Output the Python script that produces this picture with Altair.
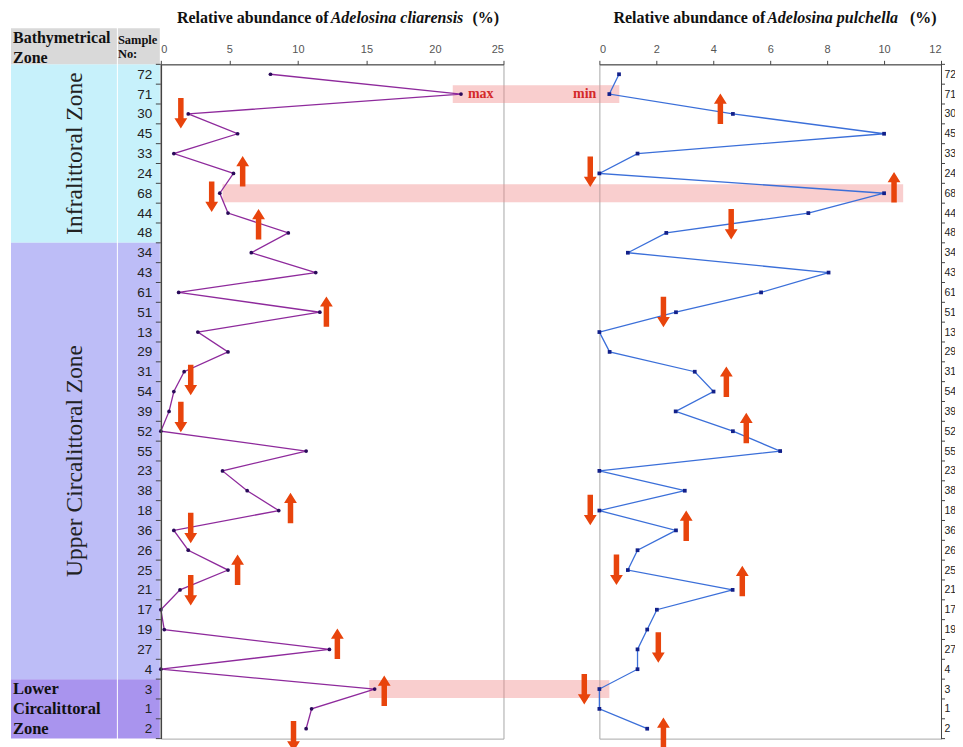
import altair as alt
import pandas as pd

# ---------------- data ----------------
samples = ["72", "71", "30", "45", "33", "24", "68", "44", "48", "34", "43", "61", "51",
           "13", "29", "31", "54", "39", "52", "55", "23", "38", "18", "36", "26", "25",
           "21", "17", "19", "27", "4", "3", "1", "2"]
cliarensis = [8.0, 21.9, 2.0, 5.6, 0.95, 5.3, 4.3, 4.9, 9.3, 6.6, 11.3, 1.3, 11.6,
              2.7, 4.9, 1.7, 0.95, 0.6, 0.0, 10.6, 4.5, 6.3, 8.6, 0.95, 2.0, 4.9,
              1.4, 0.0, 0.25, 12.3, 0.0, 15.6, 11.0, 10.6]
pulchella = [0.69, 0.35, 4.69, 10.0, 1.34, 0.0, 10.0, 7.34, 2.35, 1.0, 8.05, 5.68, 2.69,
             0.0, 0.36, 3.35, 4.01, 2.68, 4.69, 6.35, 0.0, 3.0, 0.0, 2.69, 1.34, 1.0,
             4.68, 2.02, 1.68, 1.34, 1.34, 0.0, 0.0, 1.68]

zone_names = ["Infralittoral Zone", "Upper Circalittoral Zone", "Lower\nCircalittoral\nZone"]
zone_start = [0, 9, 31]
zone_end = [9, 31, 34]
zone_colors = ["#c7f1fb", "#bdbdf7", "#a994ee"]

# highlighted rows (max / min links)
band_rows = [1, 6, 31]
band_left = [21.3, 4.5, 15.2]
band_right = [0.7, 10.67, 0.35]

# arrows
arrows_l_x = [1.46, 5.97, 3.71, 7.13, 12.08, 2.18, 1.46, 9.46, 2.18, 5.6, 2.18, 12.88, 16.3, 9.68]
arrows_l_y = [1.97, 4.89, 6.18, 7.56, 11.97, 15.42, 17.28, 21.87, 22.88, 24.99, 26.02, 28.72, 31.09, 33.38]
arrows_l_dir = ["down", "up", "down", "up", "up", "down", "down", "up", "down", "up", "down", "up", "up", "down"]
arrows_r_x = [4.25, -0.32, 10.35, 4.63, 2.25, 4.46, 5.16, -0.32, 3.05, 0.6, 5.02, 2.07, -0.53, 2.25]
arrows_r_y = [1.74, 4.92, 5.7, 7.56, 11.99, 15.5, 17.84, 21.97, 22.77, 24.99, 25.55, 28.9, 31.01, 33.2]
arrows_r_dir = ["up", "down", "up", "down", "down", "up", "up", "down", "up", "down", "up", "down", "down", "up"]

title_l = ["Relative abundance of ", "Adelosina cliarensis", "(%)"]
title_r = ["Relative abundance of ", "Adelosina pulchella", "(%)"]
header_zone = "Bathymetrical\nZone"
header_sample = "Sample\nNo:"

# ---------------- tables ----------------
rows = list(range(len(samples)))
df = pd.DataFrame({"row": rows, "sample": samples, "cli": cliarensis, "pul": pulchella})
bounds_df = pd.DataFrame({"b": [r - 0.5 for r in rows] + [rows[-1] + 0.5]})
zones = pd.DataFrame({
    "name": zone_names, "color": zone_colors, "first": zone_start,
    "y0": [s - 0.5 for s in zone_start], "y1": [e - 0.5 for e in zone_end],
    "mid": [(s + e - 1) / 2 for s, e in zip(zone_start, zone_end)],
})
bands = pd.DataFrame({"row": band_rows, "bl": band_left, "br": band_right,
                      "y0": [r - 0.45 for r in band_rows], "y1": [r + 0.45 for r in band_rows]})
arr_l = pd.DataFrame({"x": arrows_l_x, "y": arrows_l_y, "dir": arrows_l_dir})
arr_r = pd.DataFrame({"x": arrows_r_x, "y": arrows_r_y, "dir": arrows_r_dir})

W_L, W_R, H, GAP = 343, 342, 675, 96
SANS = "Liberation Sans"
SERIF = "Liberation Serif"

yscale = alt.Scale(domain=[-0.5, rows[-1] + 0.5], reverse=True, nice=False, zero=False)
label_expr = "[" + ",".join("'%s'" % s for s in samples) + "][datum.value]"

UP = "M -0.18 1 L -0.18 -0.33 L -0.42 -0.33 L 0 -1 L 0.42 -0.33 L 0.18 -0.33 L 0.18 1 Z"
DOWN = "M -0.18 -1 L -0.18 0.33 L -0.42 0.33 L 0 1 L 0.42 0.33 L 0.18 0.33 L 0.18 -1 Z"
shape_scale = alt.Scale(domain=["up", "down"], range=[UP, DOWN])

ARROW_C = "#e8440c"
BAND_C = "#f08a8a"


def make_yaxis(orient, pad, dwidth, fsize):
    return alt.Axis(orient=orient, values=rows, tickCount=len(rows), labelExpr=label_expr,
                    ticks=False, title=None, grid=False, labelFont=SANS, labelFontSize=fsize,
                    labelColor="#222", labelPadding=pad, labelOverlap=False,
                    domainColor="#444", domainWidth=dwidth, zindex=2)


def make_xaxis(vals):
    return alt.Axis(orient="top", values=vals, title=None, grid=False,
                    labelFont=SANS, labelFontSize=11, labelColor="#555", tickColor="#444",
                    tickSize=4, domainColor="#444", labelPadding=6, zindex=2)


yaxis_l = make_yaxis("left", 9, 1.5, 13.5)
yaxis_r = make_yaxis("right", 3, 1, 10.5)
xaxis_l = make_xaxis([0, 5, 10, 15, 20, 25])
xaxis_r = make_xaxis([0, 2, 4, 6, 8, 10, 12])
xs_l = alt.Scale(domain=[0, 25], nice=False, zero=True)
xs_r = alt.Scale(domain=[0, 12], nice=False, zero=True)


def panel(xscale, xaxis, yaxis):
    def xq(field):
        return alt.X(field, type="quantitative", scale=xscale, axis=xaxis)

    def yq(field):
        return alt.Y(field, type="quantitative", scale=yscale, axis=yaxis)
    return xq, yq


def arrow_layer(data, xq, yq):
    return alt.Chart(data).mark_point(filled=True, size=930, opacity=1, color=ARROW_C,
                                      strokeWidth=0).encode(
        x=xq("x"), y=yq("y"),
        shape=alt.Shape("dir:N", scale=shape_scale, legend=None))


def title_layers(parts, x_end_reg, x_ital, x_pct):
    d1 = pd.DataFrame({"t": [parts[0]]})
    d2 = pd.DataFrame({"t": [parts[1]]})
    d3 = pd.DataFrame({"t": [parts[2]]})
    common = dict(font=SERIF, fontSize=16, fontWeight="bold", baseline="middle", color="#111")
    a = alt.Chart(d1).mark_text(align="right", **common).encode(
        text="t:N", x=alt.value(x_end_reg), y=alt.value(-46))
    b = alt.Chart(d2).mark_text(align="left", fontStyle="italic", **common).encode(
        text="t:N", x=alt.value(x_ital), y=alt.value(-46))
    c = alt.Chart(d3).mark_text(align="left", **common).encode(
        text="t:N", x=alt.value(x_pct), y=alt.value(-46))
    return [a, b, c]


# ---------------- left panel ----------------
xq, yq = panel(xs_l, xaxis_l, yaxis_l)

line_l = alt.Chart(df).mark_line(color="#8e2a9c", strokeWidth=1.3).encode(
    x=xq("cli"), y=yq("row"), order="row:Q")
zone_rect = alt.Chart(zones).mark_rect().encode(
    x=alt.value(-150), x2=alt.value(-44), y=yq("y0"), y2="y1:Q",
    color=alt.Color("color:N", scale=None))
sample_rect = alt.Chart(zones).mark_rect().encode(
    x=alt.value(-43), x2=alt.value(-1), y=yq("y0"), y2="y1:Q",
    color=alt.Color("color:N", scale=None))
hdr = pd.DataFrame({"z": [header_zone], "s": [header_sample]})
hdr_rect1 = alt.Chart(hdr).mark_rect(color="#d9d9d9").encode(
    x=alt.value(-150), x2=alt.value(-44), y=alt.value(-36), y2=alt.value(0))
hdr_rect2 = alt.Chart(hdr).mark_rect(color="#d9d9d9").encode(
    x=alt.value(-43), x2=alt.value(-1), y=alt.value(-36), y2=alt.value(0))
hdr_t1 = alt.Chart(hdr).mark_text(font=SERIF, fontSize=16, fontWeight="bold", align="left",
                                  baseline="alphabetic", lineBreak="\n", lineHeight=20,
                                  color="#111").encode(
    text="z:N", x=alt.value(-148), y=alt.value(-21))
hdr_t2 = alt.Chart(hdr).mark_text(font=SERIF, fontSize=12.5, fontWeight="bold", align="left",
                                  baseline="alphabetic", lineBreak="\n", lineHeight=14,
                                  color="#111").encode(
    text="s:N", x=alt.value(-43), y=alt.value(-20))
zone_rot = alt.Chart(zones.iloc[:2]).mark_text(font=SERIF, fontSize=23.5, angle=270,
                                               baseline="middle", align="center",
                                               color="#222").encode(
    text="name:N", x=alt.value(-86), y=yq("mid"))
zone_low = alt.Chart(zones.iloc[2:]).mark_text(font=SERIF, fontSize=16.5, fontWeight="bold",
                                               align="left", baseline="middle",
                                               lineBreak="\n", lineHeight=20,
                                               color="#111").encode(
    text="name:N", x=alt.value(-148), y=yq("first"))
ticks_l = alt.Chart(bounds_df).mark_rule(color="#444", strokeWidth=1).encode(
    x=alt.value(-5), x2=alt.value(0), y=yq("b"))
band_l = alt.Chart(bands).mark_rect(color=BAND_C, opacity=0.42).encode(
    x=xq("bl"), x2=alt.value(W_L + GAP), y=yq("y0"), y2="y1:Q")
pts_l = alt.Chart(df).mark_point(filled=True, size=14, opacity=1, color="#2a0a5a").encode(
    x=xq("cli"), y=yq("row"))
maxlab = pd.DataFrame({"t": ["max"], "x": [cliarensis[1]], "y": [1]})
max_t = alt.Chart(maxlab).mark_text(font=SERIF, fontSize=14, fontWeight="bold", color="#d42a2a",
                                    align="left", baseline="middle", dx=7).encode(
    text="t:N", x=xq("x"), y=yq("y"))

left = alt.layer(
    zone_rect, sample_rect, hdr_rect1, hdr_rect2, hdr_t1, hdr_t2, zone_rot, zone_low,
    band_l, ticks_l, line_l, pts_l, max_t, arrow_layer(arr_l, xq, yq),
    *title_layers(title_l, 168, 170, 312)
).properties(width=W_L, height=H)

# ---------------- right panel ----------------
xq, yq = panel(xs_r, xaxis_r, yaxis_r)

line_r = alt.Chart(df).mark_line(color="#3b6fd9", strokeWidth=1.3).encode(
    x=xq("pul"), y=yq("row"), order="row:Q")
ticks_r = alt.Chart(bounds_df).mark_rule(color="#444", strokeWidth=1).encode(
    x=alt.value(W_R), x2=alt.value(W_R + 4), y=yq("b"))
band_r = alt.Chart(bands).mark_rect(color=BAND_C, opacity=0.42).encode(
    x=xq("br"), x2=alt.value(0), y=yq("y0"), y2="y1:Q")
pts_r = alt.Chart(df).mark_point(filled=True, size=14, opacity=1, shape="square",
                                 color="#12208a").encode(
    x=xq("pul"), y=yq("row"))
minlab = pd.DataFrame({"t": ["min"], "x": [pulchella[1]], "y": [1]})
min_t = alt.Chart(minlab).mark_text(font=SERIF, fontSize=14, fontWeight="bold", color="#d42a2a",
                                    align="right", baseline="middle", dx=-13).encode(
    text="t:N", x=xq("x"), y=yq("y"))

right = alt.layer(
    band_r, ticks_r, line_r, pts_r, min_t, arrow_layer(arr_r, xq, yq),
    *title_layers(title_r, 166, 168, 311)
).properties(width=W_R, height=H)

chart = alt.hconcat(left, right, spacing=GAP, bounds="flush").properties(
    padding={"left": 2, "top": 1, "right": -2, "bottom": 0}
).configure_view(stroke="#a8a8a8", strokeWidth=1).resolve_scale(x="independent")

chart.save("out.html", embed_options={"renderer": "svg", "actions": False})
